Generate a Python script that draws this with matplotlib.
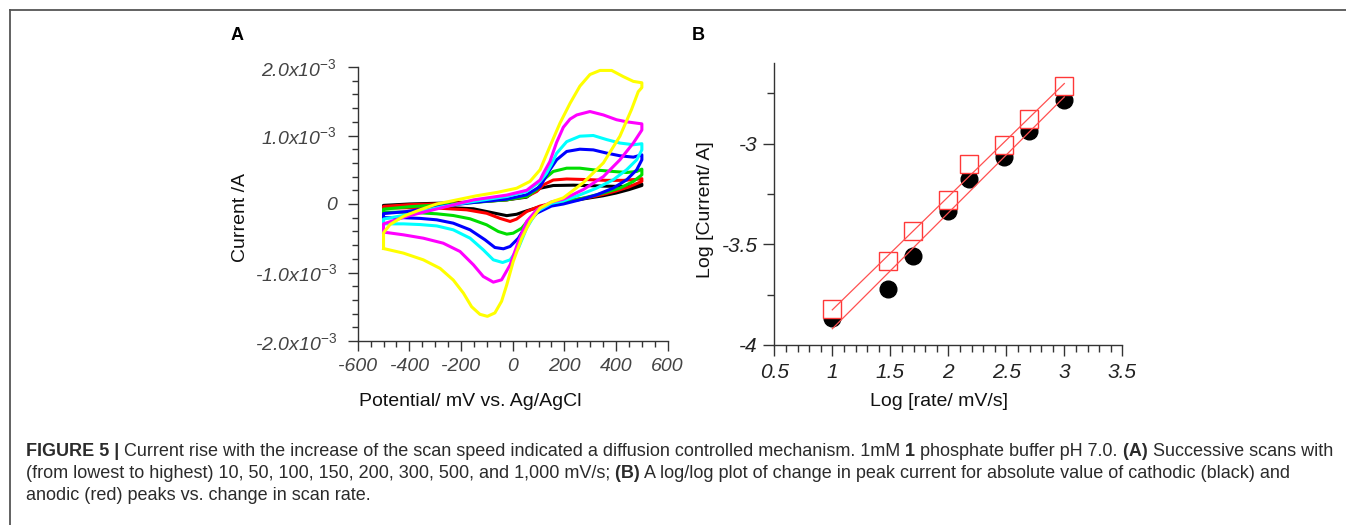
import numpy as np
import matplotlib
matplotlib.use("Agg")
import matplotlib.pyplot as plt
from matplotlib.ticker import MultipleLocator, FixedLocator
from matplotlib.lines import Line2D

plt.rcParams['font.family'] = ['Liberation Sans', 'DejaVu Sans']
plt.rcParams['mathtext.fontset'] = 'custom'
plt.rcParams['mathtext.rm'] = 'Liberation Sans'
plt.rcParams['mathtext.it'] = 'Liberation Sans:italic'
plt.rcParams['mathtext.default'] = 'it'
plt.rcParams['axes.unicode_minus'] = False

# ---- panel A: cyclic voltammograms (potential in mV, current in mA) ----
black_E = [-500, -500, -400, -281, -152, -23, 54, 80, 106, 157, 235, 364, 450, 500, 500, 450, 400, 350,
           300, 250, 200, 150, 106, 54, 15, -23, -75, -152, -281, -400, -500]
black_I = [-0.035, -0.02, 0.0, 0.012, 0.03, 0.061, 0.10, 0.17, 0.23, 0.27, 0.275, 0.26, 0.255, 0.29, 0.27,
           0.21, 0.16, 0.12, 0.09, 0.06, 0.03, 0.0, -0.04, -0.10, -0.15, -0.17, -0.13, -0.07, -0.045, -0.04, -0.035]

red_E = [-500, -500, -400, -281, -152, -23, 54, 93, 119, 157, 209, 299, 364, 428, 480, 500, 500, 450, 400,
         350, 300, 250, 200, 150, 106, 54, 15, -10, -49, -101, -178, -281, -410, -500]
red_I = [-0.06, -0.035, -0.01, 0.003, 0.027, 0.061, 0.11, 0.183, 0.28, 0.35, 0.365, 0.355, 0.345, 0.345,
         0.36, 0.37, 0.33, 0.25, 0.19, 0.14, 0.10, 0.07, 0.04, 0.01, -0.03, -0.11, -0.22, -0.255, -0.21,
         -0.135, -0.085, -0.062, -0.055, -0.06]

green_E = [-500, -500, -400, -281, -152, -23, 54, 93, 119, 157, 209, 260, 312, 389, 441, 480, 500, 500, 467,
           415, 351, 273, 196, 150, 106, 67, 35, 2, -23, -56, -101, -165, -230, -294, -359, -423, -500]
green_I = [-0.12, -0.075, -0.04, -0.012, 0.022, 0.061, 0.11, 0.207, 0.353, 0.475, 0.523, 0.523, 0.499,
           0.475, 0.46, 0.475, 0.509, 0.426, 0.329, 0.232, 0.159, 0.086, 0.03, 0.01, -0.085, -0.207, -0.353,
           -0.426, -0.44, -0.401, -0.304, -0.216, -0.168, -0.143, -0.129, -0.119, -0.12]

blue_E = [-500, -500, -410, -281, -152, -23, 54, 106, 144, 170, 209, 260, 312, 364, 415, 467, 500, 500, 480,
          441, 389, 325, 260, 196, 150, 93, 54, 22, -10, -36, -69, -107, -165, -230, -294, -359, -423, -500]
blue_I = [-0.20, -0.14, -0.11, -0.036, 0.022, 0.071, 0.134, 0.256, 0.50, 0.645, 0.767, 0.80, 0.79, 0.743,
          0.704, 0.684, 0.718, 0.645, 0.499, 0.353, 0.232, 0.134, 0.061, 0.0, -0.03, -0.134, -0.304, -0.499,
          -0.62, -0.654, -0.635, -0.523, -0.377, -0.28, -0.231, -0.21, -0.20, -0.20]

cyan_E = [-500, -500, -410, -281, -152, -23, 54, 106, 131, 150, 170, 209, 260, 312, 364, 415, 467, 500, 500,
          480, 441, 389, 325, 260, 196, 150, 93, 54, 22, -10, -39, -75, -114, -165, -230, -294, -359, -423, -500]
cyan_I = [-0.29, -0.22, -0.158, -0.046, 0.037, 0.11, 0.183, 0.329, 0.45, 0.58, 0.74, 0.91, 0.99, 1.0, 0.94,
          0.89, 0.865, 0.88, 0.79, 0.645, 0.50, 0.353, 0.232, 0.134, 0.045, 0.01, -0.109, -0.353, -0.645,
          -0.815, -0.854, -0.815, -0.669, -0.499, -0.377, -0.32, -0.30, -0.29, -0.29]

magenta_E = [-500, -500, -410, -281, -152, -23, 54, 106, 119, 144, 170, 196, 222, 248, 299, 351, 402, 441,
             480, 500, 500, 467, 415, 351, 273, 196, 150, 93, 54, 22, -10, -43, -75, -114, -152, -204, -269,
             -346, -423, -500]
magenta_I = [-0.41, -0.29, -0.18, -0.06, 0.06, 0.13, 0.20, 0.35, 0.45, 0.62, 0.90, 1.12, 1.24, 1.30, 1.35,
             1.30, 1.23, 1.20, 1.18, 1.17, 1.08, 0.89, 0.645, 0.40, 0.21, 0.07, 0.03, -0.085, -0.255, -0.547,
             -0.888, -1.107, -1.141, -1.058, -0.888, -0.693, -0.572, -0.499, -0.45, -0.41]

yellow_E = [-500, -500, -475, -423, -359, -294, -217, -140, -60, 15, 67, 106, 144, 183, 222, 260, 299, 338,
            383, 428, 467, 500, 500, 486, 460, 415, 351, 273, 196, 150, 106, 67, 35, 2, -23, -43, -69, -98,
            -127, -159, -191, -230, -281, -346, -423, -500]
yellow_I = [-0.65, -0.42, -0.30, -0.18, -0.085, 0.0, 0.06, 0.12, 0.17, 0.23, 0.33, 0.50, 0.84, 1.18, 1.47,
            1.72, 1.89, 1.95, 1.95, 1.86, 1.79, 1.77, 1.70, 1.64, 1.38, 0.99, 0.60, 0.31, 0.09, 0.03, -0.06,
            -0.255, -0.50, -0.84, -1.18, -1.42, -1.59, -1.64, -1.61, -1.50, -1.30, -1.11, -0.94, -0.815,
            -0.717, -0.65]

xticks_A = [-600, -400, -200, 0, 200, 400, 600]
xlabels_A = ['-600', '-400', '-200', '0', '200', '400', '600']
yticks_A = [-2e-3, -1e-3, 0, 1e-3, 2e-3]
ylabels_A = ['-2.0x10$^{-3}$', '-1.0x10$^{-3}$', '0', '1.0x10$^{-3}$', '2.0x10$^{-3}$']

# ---- panel B: log/log peak current vs scan rate ----
log_rate = [1.0, 1.477, 1.699, 2.0, 2.176, 2.477, 2.699, 3.0]
log_cathodic = [-3.867, -3.723, -3.556, -3.336, -3.174, -3.065, -2.937, -2.784]
log_anodic = [-3.819, -3.585, -3.435, -3.277, -3.098, -3.005, -2.875, -2.713]

xticks_B = [0.5, 1, 1.5, 2, 2.5, 3, 3.5]
xlabels_B = ['0.5', '1', '1.5', '2', '2.5', '3', '3.5']
yticks_B = [-4, -3.5, -3]
ylabels_B = ['-4', '-3.5', '-3']

W, H = 1346, 525
fig = plt.figure(figsize=(W / 100, H / 100), dpi=100)

# outer frame (top + left edge)
fig.add_artist(Line2D([10 / W, 1], [1 - 10 / H, 1 - 10 / H], color='#555555', lw=1.3))
fig.add_artist(Line2D([10 / W, 10 / W], [0, 1 - 10 / H], color='#555555', lw=1.3))

axis_col = '#333333'

# ---------- A ----------
axA = fig.add_axes([357.7 / W, 1 - 341 / H, 310 / W, 274 / H])
curves = [(black_E, black_I, 'black'), (red_E, red_I, '#ff0000'), (green_E, green_I, '#00dd00'),
          (blue_E, blue_I, '#0000ff'), (cyan_E, cyan_I, '#00ffff'), (magenta_E, magenta_I, '#ff00ff'),
          (yellow_E, yellow_I, '#ffff00')]
for E, I, c in curves:
    axA.plot(E, np.array(I) * 1e-3, color=c, lw=2.2, solid_joinstyle='round', clip_on=False)
axA.set_xlim(-600, 600)
axA.set_ylim(-2e-3, 2e-3)
axA.set_xticks(xticks_A)
axA.set_xticklabels(xlabels_A, fontstyle='italic', fontsize=14, color='#444444')
axA.set_yticks(yticks_A)
axA.set_yticklabels(ylabels_A, fontstyle='italic', fontsize=14, color='#444444')
axA.xaxis.set_minor_locator(MultipleLocator(50))
axA.yaxis.set_minor_locator(MultipleLocator(0.2e-3))
axA.tick_params(which='major', direction='out', length=7, width=1, color=axis_col)
axA.tick_params(which='minor', direction='out', length=4.5, width=1, color=axis_col)
axA.tick_params(axis='x', pad=5)
axA.tick_params(axis='y', pad=8)

# ---------- B ----------
axB = fig.add_axes([774.3 / W, 1 - 345 / H, 348 / W, 281.7 / H])
axB.plot(log_rate, log_cathodic, 'o', color='black', ms=12, zorder=2)
axB.plot(log_rate, log_anodic, 's', mfc='white', mec='#ff3838', mew=1.0, ms=13.5, zorder=3)
xs = np.array([log_rate[0], log_rate[-1]])
for ys in (log_anodic, log_cathodic):
    k, b = np.polyfit(log_rate, ys, 1)
    axB.plot(xs, k * xs + b, color='#ff5050', lw=0.9, zorder=4)
axB.set_xlim(0.5, 3.5)
axB.set_ylim(-4, -2.6)
axB.set_xticks(xticks_B)
axB.set_xticklabels(xlabels_B, fontstyle='italic', fontsize=15, color='#222222')
axB.yaxis.set_major_locator(FixedLocator(yticks_B))
axB.set_yticklabels(ylabels_B, fontstyle='italic', fontsize=15, color='#222222')
axB.xaxis.set_minor_locator(MultipleLocator(0.1))
axB.yaxis.set_minor_locator(MultipleLocator(0.25))
axB.tick_params(which='major', direction='out', length=8, width=1, color=axis_col)
axB.tick_params(which='minor', direction='out', length=5, width=1, color=axis_col)
axB.tick_params(axis='x', pad=5)
axB.tick_params(axis='y', pad=4)

for ax in (axA, axB):
    for side in ('top', 'right'):
        ax.spines[side].set_visible(False)
    for side in ('left', 'bottom'):
        ax.spines[side].set_color(axis_col)
        ax.spines[side].set_linewidth(1)

# axis titles and panel letters
fig.text(240.5 / W, 1 - 217 / H, 'Current /A', rotation=90, ha='center', va='center', fontsize=14, color='#111111')
fig.text(470 / W, 1 - 401 / H, 'Potential/ mV vs. Ag/AgCl', ha='center', va='center', fontsize=14, color='#111111')
fig.text(705 / W, 1 - 209.5 / H, 'Log [Current/ A]', rotation=90, ha='center', va='center', fontsize=14, color='#111111')
fig.text(939.5 / W, 1 - 401 / H, 'Log [rate/ mV/s]', ha='center', va='center', fontsize=14, color='#111111')
fig.text(237 / W, 1 - 36 / H, 'A', ha='center', va='center', fontsize=13, fontweight='bold')
fig.text(698 / W, 1 - 36 / H, 'B', ha='center', va='center', fontsize=13, fontweight='bold')

# caption with mixed bold runs
cap_fs = 13
cap_lines = [
    (451, [('FIGURE 5 |', True),
           (' Current rise with the increase of the scan speed indicated a diffusion controlled mechanism. 1mM', False),
           (' 1', True), (' phosphate buffer pH 7.0.', False), (' (A)', True), (' Successive scans with', False)]),
    (473, [('(from lowest to highest) 10, 50, 100, 150, 200, 300, 500, and 1,000 mV/s;', False), (' (B)', True),
           (' A log/log plot of change in peak current for absolute value of cathodic (black) and', False)]),
    (495, [('anodic (red) peaks vs. change in scan rate.', False)]),
]
renderer = fig.canvas.get_renderer()
for ypix, parts in cap_lines:
    x = 26
    for s, bold in parts:
        t = fig.text(x / W, 1 - ypix / H, s, fontsize=cap_fs, fontweight='bold' if bold else 'normal',
                     color='#2b2b2b', ha='left', va='center')
        x = t.get_window_extent(renderer).x1

fig.savefig('out.png', dpi=100)
